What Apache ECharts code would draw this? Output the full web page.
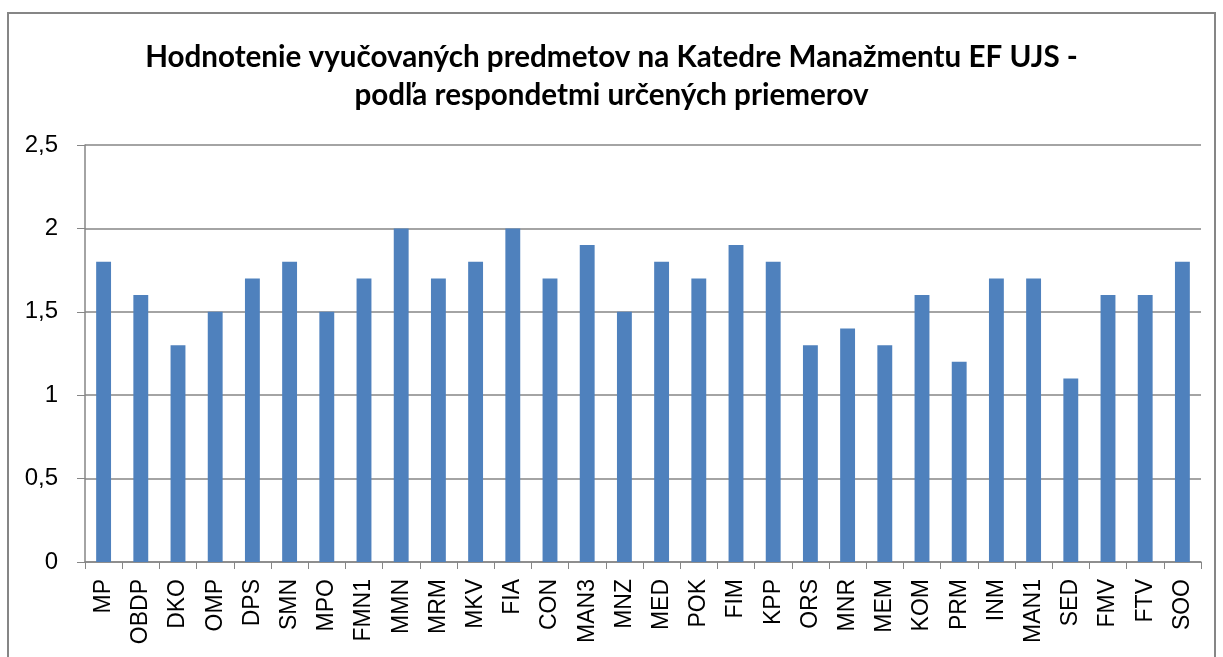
<!DOCTYPE html>
<html>
<head>
<meta charset="utf-8">
<script src="https://cdn.jsdelivr.net/npm/echarts@6/dist/echarts.min.js"></script>
<style>
  html, body { margin: 0; padding: 0; background: #fff; }
  #canvas { width: 1223px; height: 657px; }
</style>
</head>
<body>
<div id="canvas"></div>
<script>
var categories = ['MP', 'OBDP', 'DKO', 'OMP', 'DPS', 'SMN', 'MPO', 'FMN1', 'MMN', 'MRM',
    'MKV', 'FIA', 'CON', 'MAN3', 'MNZ', 'MED', 'POK', 'FIM', 'KPP', 'ORS',
    'MNR', 'MEM', 'KOM', 'PRM', 'INM', 'MAN1', 'SED', 'FMV', 'FTV', 'SOO'];
var values = [1.8, 1.6, 1.3, 1.5, 1.7, 1.8, 1.5, 1.7, 2.0, 1.7,
    1.8, 2.0, 1.7, 1.9, 1.5, 1.8, 1.7, 1.9, 1.8, 1.3,
    1.4, 1.3, 1.6, 1.2, 1.7, 1.7, 1.1, 1.6, 1.6, 1.8];
var titleText = 'Hodnotenie vyučovaných predmetov na Katedre Manažmentu EF UJS -\npodľa respondetmi určených priemerov';

function drawChart() {
    var myChart = echarts.init(document.getElementById('canvas'));

    var option = {
        animation: false,
        textStyle: { fontFamily: 'Liberation Sans' },
        title: {
            text: titleText,
            left: 'center',
            top: 33,
            textStyle: {
                fontFamily: 'Lato',
                fontSize: 29.6,
                fontWeight: 'bold',
                color: '#000',
                lineHeight: 38
            }
        },
        graphic: [{
            type: 'rect',
            shape: { x: 8, y: 13, width: 1207, height: 660 },
            style: { fill: 'none', stroke: '#868686', lineWidth: 2 },
            silent: true
        }],
        grid: { left: 85, right: 22, top: 145, bottom: 95 },
        xAxis: {
            type: 'category',
            data: categories,
            axisLine: { lineStyle: { color: '#868686', width: 1.5 } },
            axisTick: { show: true, length: 7, lineStyle: { color: '#868686' } },
            axisLabel: {
                rotate: 90,
                interval: 0,
                color: '#000',
                fontFamily: 'Liberation Sans',
                fontSize: 23,
                margin: 17
            }
        },
        yAxis: {
            type: 'value',
            min: 0,
            max: 2.5,
            interval: 0.5,
            axisLine: { show: true, lineStyle: { color: '#868686', width: 1.5 } },
            axisTick: { show: true, length: 8, lineStyle: { color: '#868686' } },
            splitLine: { lineStyle: { color: '#868686', width: 1.5 } },
            axisLabel: {
                color: '#000',
                fontFamily: 'Liberation Sans',
                fontSize: 24,
                margin: 27,
                formatter: function (v) { return String(v).replace('.', ','); }
            }
        },
        series: [{
            type: 'bar',
            data: values,
            barWidth: '40%',
            itemStyle: { color: '#4F81BD' }
        }]
    };

    myChart.setOption(option);
}

drawChart();
</script>
</body>
</html>
